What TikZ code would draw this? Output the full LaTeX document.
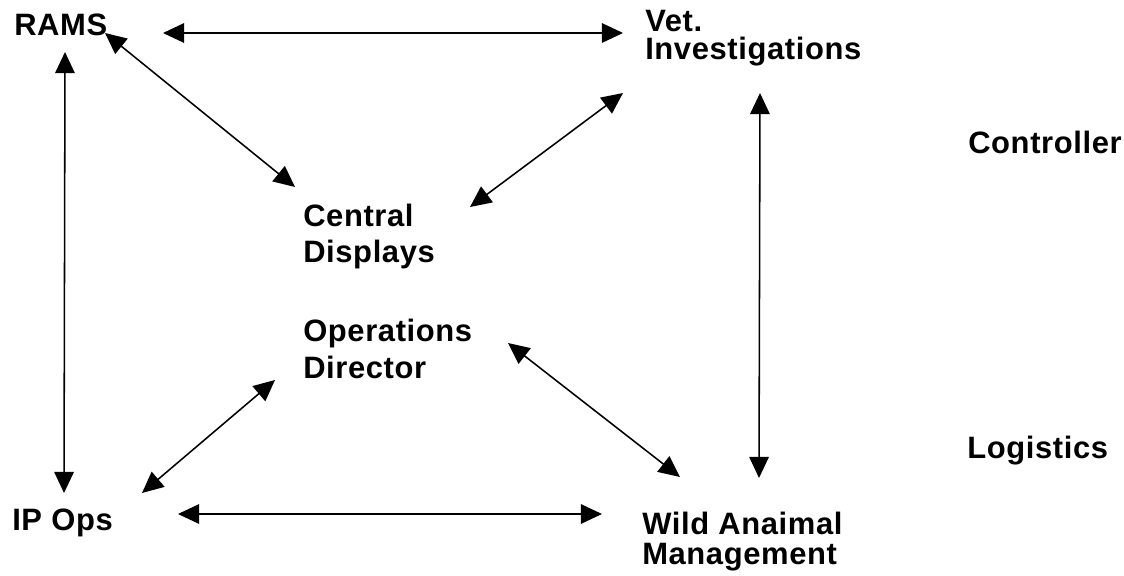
\documentclass[tikz,border=0pt]{standalone}
\usepackage{fontspec}
\setmainfont{Liberation Sans}[LetterSpace=2]
\usetikzlibrary{arrows.meta}

\begin{document}
\begin{tikzpicture}[
      x=0.025cm, y=-0.025cm,
      lbl/.style={anchor=base west, inner sep=0pt, align=left, font=\bfseries\fontsize{22}{26}\selectfont},
      arr/.style={{Triangle[length=0.53cm, width=0.49cm]}-{Triangle[length=0.53cm, width=0.49cm]}, line width=1.1pt}
    ]
      \useasboundingbox (0,0) rectangle (1124,576);

      % Units (base = last line)
      \node[lbl] (rams) at (14,36) {RAMS};
      \node[lbl, font=\bfseries\fontsize{22}{20}\selectfont] (vet) at (645,60) {Vet.\\Investigations};
      \node[lbl, font=\bfseries\fontsize{22}{26.3}\selectfont] (central) at (303,263) {Central\\Displays};
      \node[lbl, font=\bfseries\fontsize{22}{26.3}\selectfont] (opsdir) at (303,378) {Operations\\Director};
      \node[lbl] (ipops) at (12,530) {IP Ops};
      \node[lbl, font=\bfseries\fontsize{22}{21}\selectfont] (wild) at (642,564) {Wild Anaimal\\Management};

      % Side labels
      \node[lbl] (ctrl) at (968,154) {Controller};
      \node[lbl] (logi) at (967,458) {Logistics};

      % Arrow ends
      \coordinate (rams-r) at (163,33);   \coordinate (vet-l) at (623,33);
      \coordinate (rams-d) at (105,33);   \coordinate (central-u) at (295,187);
      \coordinate (rams-b) at (65,52);    \coordinate (ipops-t) at (64,493);
      \coordinate (vet-d) at (623,93);    \coordinate (central-r) at (470,207);
      \coordinate (vet-b) at (760,93);    \coordinate (wild-t) at (759,478);
      \coordinate (opsdir-r) at (508,343); \coordinate (wild-u) at (680,477);
      \coordinate (opsdir-l) at (275,380); \coordinate (ipops-u) at (142,493);
      \coordinate (ipops-r) at (178,514); \coordinate (wild-l) at (602,514);

      % Links
      \draw[arr] (rams-r) -- (vet-l);
      \draw[arr] (rams-d) -- (central-u);
      \draw[arr] (rams-b) -- (ipops-t);
      \draw[arr] (vet-d) -- (central-r);
      \draw[arr] (vet-b) -- (wild-t);
      \draw[arr] (opsdir-r) -- (wild-u);
      \draw[arr] (opsdir-l) -- (ipops-u);
      \draw[arr] (ipops-r) -- (wild-l);
    \end{tikzpicture}
\end{document}
